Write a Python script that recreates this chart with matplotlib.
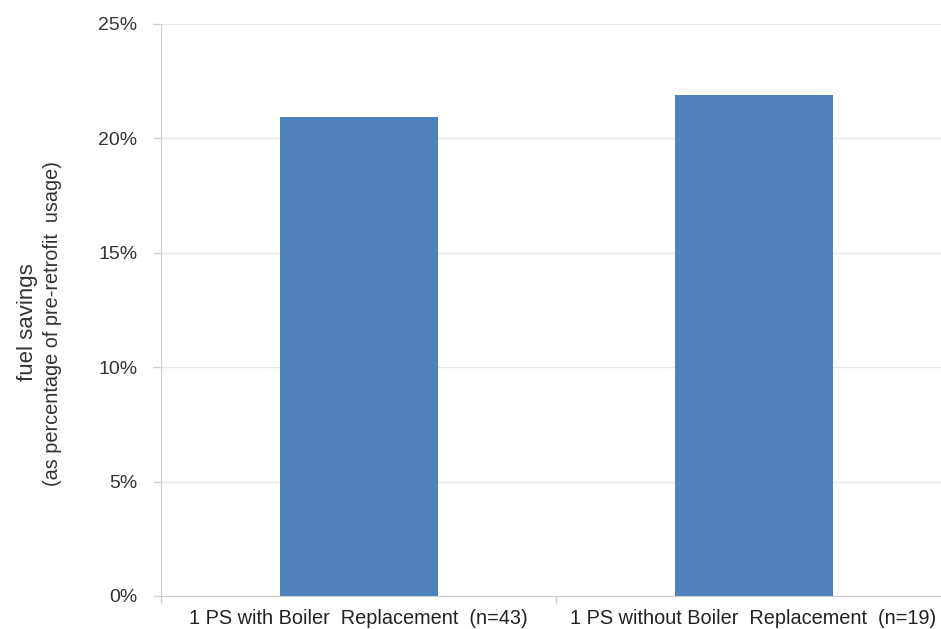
import matplotlib
matplotlib.use("Agg")
from matplotlib import pyplot as plt
from matplotlib.ticker import FuncFormatter

categories = ["1 PS with Boiler  Replacement  (n=43)",
              "1 PS without Boiler  Replacement  (n=19)"]
savings = [20.95, 21.9]
y_ticks = [0, 5, 10, 15, 20, 25]
ylabel_main = "fuel savings"
ylabel_sub = "(as percentage of pre-retrofit  usage)"

plt.rcParams['font.family'] = ['Liberation Sans', 'DejaVu Sans']

fig = plt.figure(figsize=(9.41, 6.29), dpi=100)
ax = fig.add_axes([161 / 941, 1 - 596 / 629, 790 / 941, 572 / 629])

x = list(range(len(categories)))
ax.bar(x, savings, width=0.4, color='#4f81bd', zorder=3)

ax.set_xlim(-0.5, len(categories) - 0.5)
ax.set_ylim(0, 25)
ax.set_yticks(y_ticks)
ax.yaxis.set_major_formatter(FuncFormatter(lambda v, p: f"{v:.0f}%"))
ax.grid(axis='y', color='#e6e6e6', linewidth=1, zorder=0)

ax.set_xticks(x)
ax.set_xticklabels(categories)
ax.set_xticks([-0.5, 0.5, 1.5], minor=True)
ax.tick_params(axis='x', which='major', length=0, pad=9, labelsize=14.3, labelcolor='#222222')
ax.tick_params(axis='x', which='minor', length=6, color='#cfcfcf', width=1)
ax.tick_params(axis='y', length=6, color='#cfcfcf', width=1, pad=11, labelsize=14, labelcolor='#333333')

for side in ['top', 'right']:
    ax.spines[side].set_visible(False)
ax.spines['left'].set_color('#cfcfcf')
ax.spines['bottom'].set_color('#cfcfcf')

fig.text(28 / 941, 1 - 322 / 629, ylabel_main, rotation=90, ha='center', va='center',
         fontsize=16, color='#333333')
fig.text(53 / 941, 1 - 323 / 629, ylabel_sub, rotation=90, ha='center', va='center',
         fontsize=14.3, color='#333333')

fig.savefig('out.png', dpi=100)
